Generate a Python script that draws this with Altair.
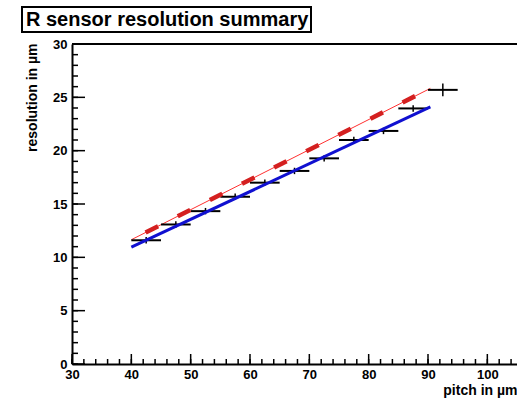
import altair as alt
import pandas as pd

# ---------------- data ----------------
title_text = ["R sensor resolution summary"]
x_title = "pitch in µm"
y_title = "resolution in µm"

pitch = [42.5, 47.5, 52.5, 57.5, 62.5, 67.5, 72.5, 77.5, 82.5, 87.5, 92.5]
pitch_err = [2.5, 2.5, 2.5, 2.5, 2.5, 2.5, 2.5, 2.5, 2.5, 2.5, 2.5]
resolution = [11.6, 13.08, 14.33, 15.68, 17.0, 18.1, 19.28, 21.0, 21.85, 23.96, 25.7]
res_err = [0.3, 0.3, 0.3, 0.3, 0.3, 0.3, 0.3, 0.3, 0.3, 0.3, 0.6]

fit_pitch = [40, 90.4]
fit_blue = [10.95, 24.1]
fit_red = [11.65, 25.84]

x_major = [30, 40, 50, 60, 70, 80, 90, 100]
x_minor = list(range(30, 106, 2))
y_major = [0, 5, 10, 15, 20, 25, 30]
y_minor = list(range(0, 31))

# ---------------- layout ----------------
W, H = 445, 320
FONT = "Liberation Sans"

xs = alt.Scale(domain=[30, 105], nice=False, zero=False)
ys = alt.Scale(domain=[0, 30], nice=False, zero=False)

xax = alt.Axis(values=x_major, ticks=False, grid=False, domainColor="black", domainWidth=2,
               labelFont=FONT, labelFontSize=13, labelFontWeight="bold", labelColor="black",
               labelPadding=4, labelFlush=False, labelOverlap=False,
               title=x_title, titleFont=FONT, titleFontSize=14, titleFontWeight="bold",
               titleColor="black", titleX=W, titleY=30, titleAlign="right",
               titleBaseline="alphabetic", titleAnchor="end")
yax = alt.Axis(values=y_major, ticks=False, grid=False, domainColor="black", domainWidth=2,
               labelFont=FONT, labelFontSize=13, labelFontWeight="bold", labelColor="black",
               labelPadding=5, labelFlush=False, labelOverlap=False,
               title=y_title, titleFont=FONT, titleFontSize=14, titleFontWeight="bold",
               titleColor="black", titleAngle=270, titleX=-40, titleY=-1,
               titleAlign="right", titleBaseline="middle", titleAnchor="end")

df_pts = pd.DataFrame({
    "pitch": pitch,
    "lo": [p - e for p, e in zip(pitch, pitch_err)],
    "hi": [p + e for p, e in zip(pitch, pitch_err)],
    "res": resolution,
    "rlo": [r - e for r, e in zip(resolution, res_err)],
    "rhi": [r + e for r, e in zip(resolution, res_err)],
})
df_fit = pd.DataFrame({"pitch": fit_pitch, "blue": fit_blue, "red": fit_red})

# ---------------- ticks (inside, ROOT style) ----------------
yminor = alt.Chart(pd.DataFrame({"res": y_minor})).mark_rule(color="black", strokeWidth=1.5).encode(
    y=alt.Y("res:Q", scale=ys, axis=yax), x=alt.value(0), x2=alt.value(6))
ymajor = alt.Chart(pd.DataFrame({"res": y_major})).mark_rule(color="black", strokeWidth=1.5).encode(
    y=alt.Y("res:Q", scale=ys, axis=yax), x=alt.value(0), x2=alt.value(13))
xminor = alt.Chart(pd.DataFrame({"pitch": x_minor})).mark_rule(color="black", strokeWidth=1.5).encode(
    x=alt.X("pitch:Q", scale=xs, axis=xax), y=alt.value(H), y2=alt.value(H - 5))
xmajor = alt.Chart(pd.DataFrame({"pitch": x_major})).mark_rule(color="black", strokeWidth=1.5).encode(
    x=alt.X("pitch:Q", scale=xs, axis=xax), y=alt.value(H), y2=alt.value(H - 10))
top_line = alt.Chart(pd.DataFrame({"a": [0]})).mark_rule(color="black", strokeWidth=2).encode(
    x=alt.value(0), x2=alt.value(W), y=alt.value(0))

# ---------------- data marks ----------------
red_thin = alt.Chart(df_fit).mark_line(color="#ff3030", strokeWidth=1).encode(
    x=alt.X("pitch:Q", scale=xs, axis=xax), y=alt.Y("red:Q", scale=ys, axis=yax))
hbars = alt.Chart(df_pts).mark_rule(color="black", strokeWidth=2).encode(
    x=alt.X("lo:Q", scale=xs, axis=xax), x2="hi:Q", y=alt.Y("res:Q", scale=ys, axis=yax))
vbars = alt.Chart(df_pts).mark_rule(color="black", strokeWidth=1.5).encode(
    x=alt.X("pitch:Q", scale=xs, axis=xax), y=alt.Y("rlo:Q", scale=ys, axis=yax), y2="rhi:Q")
blue = alt.Chart(df_fit).mark_line(color="#1010d0", strokeWidth=3).encode(
    x=alt.X("pitch:Q", scale=xs, axis=xax), y=alt.Y("blue:Q", scale=ys, axis=yax))
red_dash = alt.Chart(df_fit).mark_line(color="#d42020", strokeWidth=4.5, strokeDash=[14, 22],
                                       strokeDashOffset=20).encode(
    x=alt.X("pitch:Q", scale=xs, axis=xax), y=alt.Y("red:Q", scale=ys, axis=yax))

# ---------------- title box ----------------
df_title = pd.DataFrame({"t": title_text})
box = alt.Chart(df_title).mark_rect(fill="white", stroke="black", strokeWidth=2).encode(
    x=alt.value(-50), x2=alt.value(239), y=alt.value(-37), y2=alt.value(-12))
ttl = alt.Chart(df_title).mark_text(align="left", baseline="alphabetic", font=FONT, fontSize=20,
                                    fontWeight="bold", color="black").encode(
    x=alt.value(-46), y=alt.value(-18), text="t:N")

chart = alt.layer(
    yminor, ymajor, xminor, xmajor, top_line,
    red_thin, hbars, vbars, blue, red_dash,
    box, ttl
).properties(
    width=W, height=H,
    padding={"left": 72, "top": 44, "right": 0, "bottom": 34},
    autosize=alt.AutoSizeParams(type="none"),
    background="white",
).configure_view(stroke=None)

chart.save("out.html", embed_options={"renderer": "svg", "actions": False})
